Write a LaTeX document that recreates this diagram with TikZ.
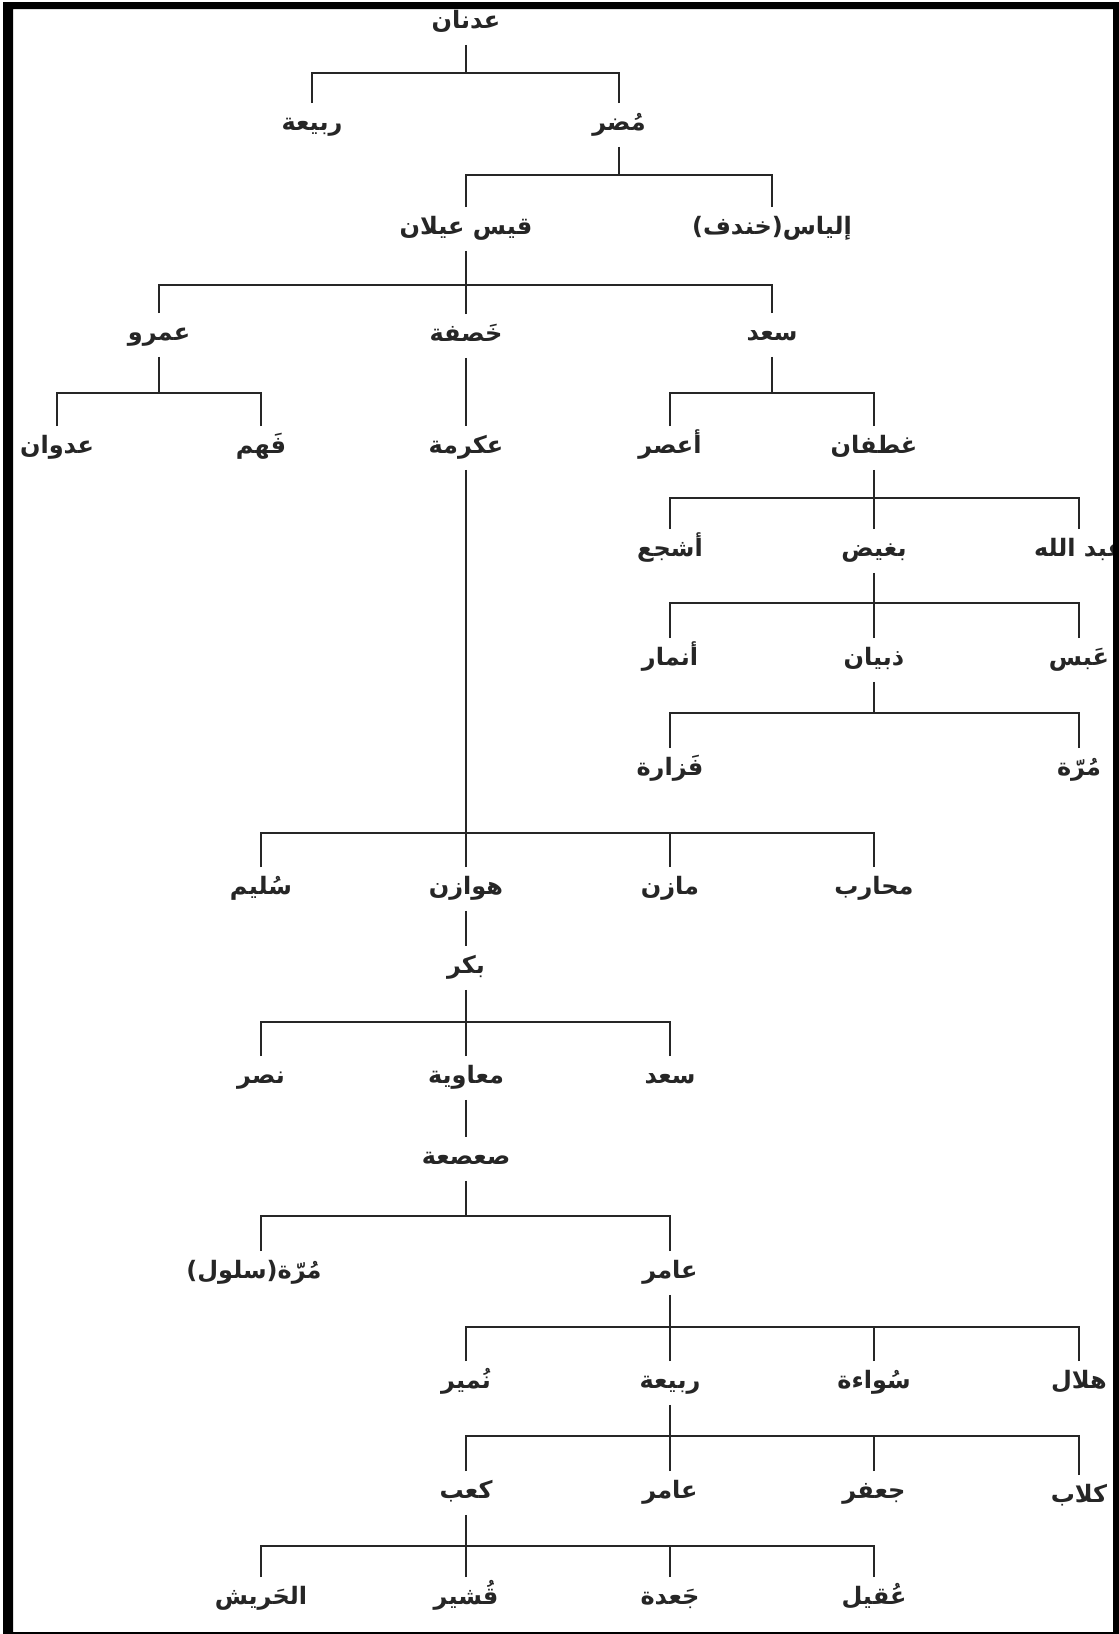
\documentclass[tikz,border=0pt]{standalone}
\usepackage{fontspec}
\newfontfamily\arabicfont[Script=Arabic]{DejaVu Sans}
\TeXXeTstate=1
\newcommand{\arname}[1]{\beginR #1\endR}
\tikzset{
  nm/.style={font=\arabicfont\bfseries\fontsize{24}{27}\selectfont, inner sep=0pt,
    text height=17pt, text depth=7pt, minimum height=42pt},
  link/.style={line width=1.6pt, black!85}
}
\begin{document}
\begin{tikzpicture}[x=1pt,y=-1pt,every path/.style={link}]
  \useasboundingbox (0,0) rectangle (1119,1634);
  \fill[white] (0,0) rectangle (1119,1634);

  \node[nm] at (466, 23) (adnan) {\arname{عدنان}};
  \node[nm] at (312, 125) (rabia) {\arname{ربيعة}};
  \node[nm] at (619, 125) (mudar) {\arname{مُضر}};
  \node[nm] at (466, 229) (qays) {\arname{قيس عيلان}};
  \node[nm] at (772, 229) (ilyas) {\arname{إلياس(خندف)}};

  \node[nm] at (159, 335) (amr) {\arname{عمرو}};
  \node[nm] at (466, 336) (khasafa) {\arname{خَصفة}};
  \node[nm] at (772, 335) (saad) {\arname{سعد}};

  \node[nm] at (57, 448) (adwan) {\arname{عدوان}};
  \node[nm] at (261, 448) (fahm) {\arname{فَهم}};
  \node[nm] at (466, 448) (ikrima) {\arname{عكرمة}};
  \node[nm] at (670, 448) (asur) {\arname{أعصر}};
  \node[nm] at (874, 448) (ghatafan) {\arname{غطفان}};

  \node[nm] at (670, 551) (ashja) {\arname{أشجع}};
  \node[nm] at (874, 551) (baghid) {\arname{بغيض}};
  \node[nm] at (1079, 551) (abdallah) {\arname{عبد الله}};

  \node[nm] at (670, 660) (anmar) {\arname{أنمار}};
  \node[nm] at (874, 660) (dhubyan) {\arname{ذبيان}};
  \node[nm] at (1079, 660) (abs) {\arname{عَبس}};

  \node[nm] at (670, 770) (fazara) {\arname{فَزارة}};
  \node[nm] at (1079, 770) (murra) {\arname{مُرّة}};

  \node[nm] at (261, 889) (sulaym) {\arname{سُليم}};
  \node[nm] at (466, 889) (hawazin) {\arname{هوازن}};
  \node[nm] at (670, 889) (mazin) {\arname{مازن}};
  \node[nm] at (874, 889) (muharib) {\arname{محارب}};

  \node[nm] at (466, 968) (bakr) {\arname{بكر}};

  \node[nm] at (261, 1078) (nasr) {\arname{نصر}};
  \node[nm] at (466, 1078) (muawiya) {\arname{معاوية}};
  \node[nm] at (670, 1078) (saadb) {\arname{سعد}};

  \node[nm] at (466, 1159) (sasaa) {\arname{صعصعة}};

  \node[nm] at (254, 1273) (salul) {\arname{مُرّة(سلول)}};
  \node[nm] at (670, 1273) (amir) {\arname{عامر}};

  \node[nm] at (466, 1383) (numayr) {\arname{نُمير}};
  \node[nm] at (670, 1383) (rabiab) {\arname{ربيعة}};
  \node[nm] at (874, 1383) (suwaa) {\arname{سُواءة}};
  \node[nm] at (1079, 1383) (hilal) {\arname{هلال}};

  \node[nm] at (466, 1493) (kaab) {\arname{كعب}};
  \node[nm] at (670, 1493) (amirb) {\arname{عامر}};
  \node[nm] at (874, 1493) (jafar) {\arname{جعفر}};
  \node[nm] at (1079, 1497) (kilab) {\arname{كلاب}};

  \node[nm] at (261, 1599) (harish) {\arname{الحَريش}};
  \node[nm] at (466, 1599) (qushayr) {\arname{قُشير}};
  \node[nm] at (670, 1599) (jada) {\arname{جَعدة}};
  \node[nm] at (874, 1599) (uqayl) {\arname{عُقيل}};

  \coordinate (b1) at (466, 73);
  \coordinate (b2) at (619, 175);
  \coordinate (b3) at (466, 285);
  \coordinate (b4) at (159, 393);
  \coordinate (b5) at (772, 393);
  \coordinate (b6) at (874, 498);
  \coordinate (b7) at (874, 603);
  \coordinate (b8) at (874, 713);
  \coordinate (b9) at (466, 833);
  \coordinate (b10) at (466, 1022);
  \coordinate (b11) at (466, 1216);
  \coordinate (b12) at (670, 1327);
  \coordinate (b13) at (670, 1436);
  \coordinate (b14) at (466, 1546);

  \draw (adnan) -- (b1);
  \draw (rabia) |- (b1);
  \draw (mudar) |- (b1);

  \draw (mudar) -- (b2);
  \draw (qays) |- (b2);
  \draw (ilyas) |- (b2);

  \draw (qays) -- (b3);
  \draw (amr) |- (b3);
  \draw (khasafa) -- (b3);
  \draw (saad) |- (b3);

  \draw (amr) -- (b4);
  \draw (adwan) |- (b4);
  \draw (fahm) |- (b4);

  \draw (khasafa) -- (ikrima);

  \draw (saad) -- (b5);
  \draw (asur) |- (b5);
  \draw (ghatafan) |- (b5);

  \draw (ghatafan) -- (b6);
  \draw (ashja) |- (b6);
  \draw (baghid) -- (b6);
  \draw (abdallah) |- (b6);

  \draw (baghid) -- (b7);
  \draw (anmar) |- (b7);
  \draw (dhubyan) -- (b7);
  \draw (abs) |- (b7);

  \draw (dhubyan) -- (b8);
  \draw (fazara) |- (b8);
  \draw (murra) |- (b8);

  \draw (ikrima) -- (b9);
  \draw (sulaym) |- (b9);
  \draw (hawazin) -- (b9);
  \draw (mazin) |- (b9);
  \draw (muharib) |- (b9);

  \draw (hawazin) -- (bakr);

  \draw (bakr) -- (b10);
  \draw (nasr) |- (b10);
  \draw (muawiya) -- (b10);
  \draw (saadb) |- (b10);

  \draw (muawiya) -- (sasaa);

  \draw (sasaa) -- (b11);
  \draw (salul.north -| 261,0) |- (b11);
  \draw (amir) |- (b11);

  \draw (amir) -- (b12);
  \draw (numayr) |- (b12);
  \draw (rabiab) -- (b12);
  \draw (suwaa) |- (b12);
  \draw (hilal) |- (b12);

  \draw (rabiab) -- (b13);
  \draw (kaab) |- (b13);
  \draw (amirb) -- (b13);
  \draw (jafar) |- (b13);
  \draw (kilab) |- (b13);

  \draw (kaab) -- (b14);
  \draw (harish) |- (b14);
  \draw (qushayr) -- (b14);
  \draw (jada) |- (b14);
  \draw (uqayl) |- (b14);

  \fill[black,even odd rule] (3,2) rectangle (1119,1634) (13,9) rectangle (1113,1632);
\end{tikzpicture}
\end{document}
